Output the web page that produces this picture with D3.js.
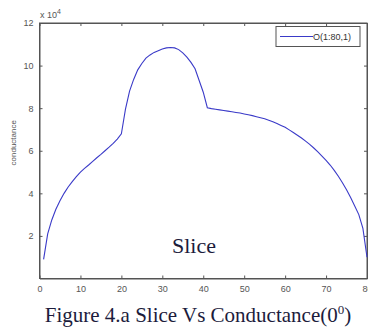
<!DOCTYPE html>
<html><head><meta charset="utf-8">
<script src="https://cdn.jsdelivr.net/npm/d3@7"></script>
<style>html,body{margin:0;padding:0;background:#fff;}svg{display:block;}</style>
</head><body>
<svg id="chart" width="368" height="330"></svg>
<script>
// Data: O(1:80,1), values in units of 1e4
const sliceIdx = d3.range(1, 81);
const conductance = [
  0.9, 2.1, 2.75, 3.25, 3.65, 4.0, 4.3, 4.55, 4.78, 5.0,
  5.17, 5.33, 5.5, 5.67, 5.83, 6.0, 6.17, 6.35, 6.55, 6.8,
  7.95, 8.8, 9.35, 9.8, 10.1, 10.35, 10.5, 10.62, 10.7, 10.78,
  10.83, 10.85, 10.83, 10.75, 10.6, 10.4, 10.15, 9.85, 9.3, 8.75,
  8.02, 7.98, 7.95, 7.92, 7.89, 7.86, 7.83, 7.8, 7.77, 7.73,
  7.69, 7.65, 7.6, 7.55, 7.5, 7.43, 7.36, 7.28, 7.19, 7.1,
  6.98, 6.86, 6.73, 6.6, 6.45, 6.3, 6.13, 5.95, 5.75, 5.55,
  5.33, 5.08, 4.8, 4.5, 4.17, 3.8, 3.4, 3.0, 2.35, 1.0
];
const xTicks = [0, 10, 20, 30, 40, 50, 60, 70, 80];
const yTicks = [2, 4, 6, 8, 10, 12];
const legendLabel = "O(1:80,1)";
const yLabel = "conductance";
const exponentLabel = "4";
const innerLabel = "Slice";
const captionMain = "Figure 4.a Slice Vs Conductance(0";
const captionSup = "0";
const captionEnd = ")";

const svg = d3.select("#chart");
const L = 39.5, R = 367, T = 23, B = 278.5;
const x = d3.scaleLinear().domain([0, 80]).range([L, R]);
const y = d3.scaleLinear().domain([0, 12]).range([B, T]);
const axisColor = "#555";
const tickFont = "Liberation Sans, Arial, sans-serif";

// plot box
svg.append("rect").attr("x", L).attr("y", T).attr("width", R - L).attr("height", B - T)
  .attr("fill", "#fff").attr("stroke", axisColor).attr("stroke-width", 1);

// bottom axis
const gx = svg.append("g").attr("transform", `translate(0,${B})`)
  .call(d3.axisBottom(x).tickValues(xTicks).tickSizeInner(-3).tickSizeOuter(0).tickPadding(7));
// top mirror ticks
const gxt = svg.append("g").attr("transform", `translate(0,${T})`)
  .call(d3.axisTop(x).tickValues(xTicks).tickSizeInner(-3).tickSizeOuter(0).tickFormat(""));
// left axis
const gy = svg.append("g").attr("transform", `translate(${L},0)`)
  .call(d3.axisLeft(y).tickValues(yTicks).tickSizeInner(-3).tickSizeOuter(0).tickPadding(6));
const gyr = svg.append("g").attr("transform", `translate(${R},0)`)
  .call(d3.axisRight(y).tickValues(yTicks).tickSizeInner(-3).tickSizeOuter(0).tickFormat(""));
[gx, gxt, gy, gyr].forEach(g => {
  g.select(".domain").attr("stroke", axisColor);
  g.selectAll(".tick line").attr("stroke", axisColor);
  g.selectAll(".tick text").attr("fill", "#555").style("font-family", tickFont).style("font-size", "9px");
});

// exponent label
const ex = svg.append("text").attr("x", 40).attr("y", 18).attr("fill", "#555")
  .style("font-family", tickFont).style("font-size", "9px");
ex.append("tspan").text("x 10");
ex.append("tspan").attr("dy", -4).style("font-size", "7px").text(exponentLabel);

// y label
svg.append("text").attr("transform", `translate(16,${(T + B) / 2 - 8}) rotate(-90)`)
  .attr("text-anchor", "middle").attr("fill", "#555")
  .style("font-family", tickFont).style("font-size", "8px").text(yLabel);

// line
const line = d3.line().x((d, i) => x(sliceIdx[i])).y(d => y(d));
svg.append("path").datum(conductance).attr("d", line)
  .attr("fill", "none").attr("stroke", "#3a3ac8").attr("stroke-width", 1.1);

// legend
const lg = svg.append("g");
lg.append("rect").attr("x", 276).attr("y", 26.5).attr("width", 84).attr("height", 20)
  .attr("fill", "#fff").attr("stroke", "#555");
lg.append("line").attr("x1", 280).attr("x2", 313).attr("y1", 36.5).attr("y2", 36.5)
  .attr("stroke", "#3a3ac8").attr("stroke-width", 1.1);
lg.append("text").attr("x", 313).attr("y", 40).attr("fill", "#333")
  .style("font-family", tickFont).style("font-size", "9px").text(legendLabel);

// inner label
svg.append("text").attr("x", 194).attr("y", 253).attr("text-anchor", "middle")
  .attr("fill", "#1c1c3c").style("font-family", "Liberation Serif, Times New Roman, serif")
  .style("font-size", "22px").text(innerLabel);

// caption
const cap = svg.append("text").attr("x", 198).attr("y", 322).attr("text-anchor", "middle")
  .attr("fill", "#1c1c3c").style("font-family", "Liberation Serif, Times New Roman, serif")
  .style("font-size", "21px");
cap.append("tspan").text(captionMain);
cap.append("tspan").attr("dy", -8).style("font-size", "13px").text(captionSup);
cap.append("tspan").attr("dy", 8).text(captionEnd);
</script>
</body></html>
